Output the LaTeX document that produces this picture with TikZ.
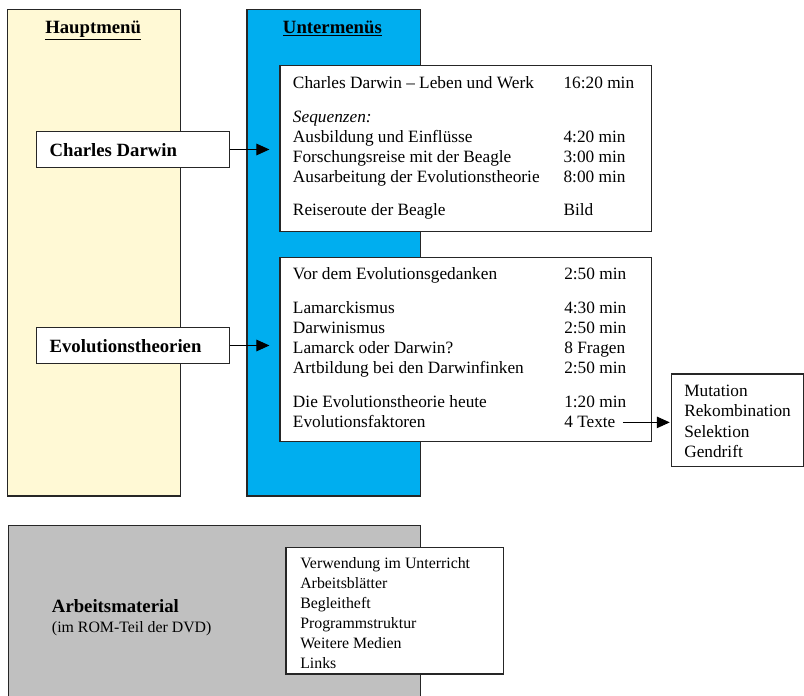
\documentclass[tikz,border=0pt]{standalone}
\usepackage{fontspec}
\setmainfont{Liberation Serif}
\usetikzlibrary{arrows.meta,fit}
\definecolor{hauptyellow}{HTML}{FFF9D5}
\definecolor{unterblue}{HTML}{00AEEF}
\definecolor{romgray}{HTML}{C0C0C0}

\begin{document}
\begin{tikzpicture}[x=0.6944pt,y=-0.6944pt,
    box/.style={draw=black!85,line width=0.7pt,fill=white,inner sep=0pt},
    txt/.style={anchor=base west,inner sep=0pt,font=\fontsize{12}{14}\selectfont},
    small/.style={anchor=base west,inner sep=0pt,font=\fontsize{11}{13}\selectfont},
    head/.style={anchor=base west,inner sep=0pt,font=\fontsize{13}{15}\selectfont\bfseries},
    arr/.style={-{Triangle[length=9pt,width=8pt]},line width=0.7pt}]
    \useasboundingbox (0,0) rectangle (804,696);

    % columns
    \node[box,fill=hauptyellow,fit={(7.3,9.5) (180.7,496)}] (haupt) {};
    \node[box,fill=unterblue,fit={(247,9.5) (420.3,496)}] (unter) {};
    \node[head] (hauptlabel) at (45,33.5) {\underline{Hauptmenü}};
    \node[head] (unterlabel) at (282.7,33.5) {\underline{Untermenüs}};

    % Charles Darwin
    \node[box,fit={(36.7,131.7) (229.7,167.3)}] (darwin) {};
    \node[head] (darwinlabel) at (49.3,156.7) {Charles Darwin};
    \node[box,fit={(280,66) (651.7,231.7)}] (sub1) {};
    \node[txt] (seq) at (292.7,122.4) {\textit{Sequenzen:}};
    \foreach \y/\a/\b [count=\i] in {89/Charles Darwin – Leben und Werk/16:20 min,
        142.4/Ausbildung und Einflüsse/4:20 min,
        162.4/Forschungsreise mit der Beagle/3:00 min,
        182.4/Ausarbeitung der Evolutionstheorie/8:00 min,
        215.7/Reiseroute der Beagle/Bild}{
      \node[txt] (da\i) at (292.7,\y) {\a};
      \node[txt] (db\i) at (563.3,\y) {\b};
    }
    \draw[arr,shorten >=7pt] (darwin.east) -- (darwin.east -| sub1.west);

    % Evolutionstheorien
    \node[box,fit={(36.7,327.7) (229.7,363.3)}] (evol) {};
    \node[head] (evollabel) at (49.3,352.7) {Evolutionstheorien};
    \node[box,fit={(280,257.3) (651.7,441.3)}] (sub2) {};
    \foreach \y/\a/\b [count=\i] in {280/Vor dem Evolutionsgedanken/2:50 min,
        314/Lamarckismus/4:30 min,
        334/Darwinismus/2:50 min,
        354/Lamarck oder Darwin?/8 Fragen,
        374/Artbildung bei den Darwinfinken/2:50 min,
        408/Die Evolutionstheorie heute/1:20 min,
        428/Evolutionsfaktoren/4 Texte}{
      \node[txt] (ea\i) at (292.7,\y) {\a};
      \node[txt] (eb\i) at (564,\y) {\b};
    }
    \draw[arr,shorten >=7pt] (evol.east) -- (evol.east -| sub2.west);

    % Evolutionsfaktoren
    \node[box,fit={(671.7,374) (803,466.7)}] (faktoren) {};
    \foreach \t [count=\i] in {Mutation,Rekombination,Selektion,Gendrift}
      \node[txt] (fk\i) at (684,{396.4+20.5*(\i-1)}) {\t};
    \draw[arr,shorten <=5pt,shorten >=1pt] (eb7.east) -- (eb7.east -| faktoren.west);

    % Arbeitsmaterial
    \node[box,fill=romgray,fit={(8.3,525.7) (420.3,702)}] (arbeit) {};
    \node[head] (arbeitlabel) at (51.7,612.3) {Arbeitsmaterial};
    \node[small] (romlabel) at (51.7,632.7) {(im ROM-Teil der DVD)};
    \node[box,fit={(286,547.7) (503,674)}] (material) {};
    \foreach \t [count=\i] in {Verwendung im Unterricht,Arbeitsblätter,Begleitheft,
        Programmstruktur,Weitere Medien,Links}
      \node[small] (mat\i) at (300,{568.3+20*(\i-1)}) {\t};
\end{tikzpicture}
\end{document}
